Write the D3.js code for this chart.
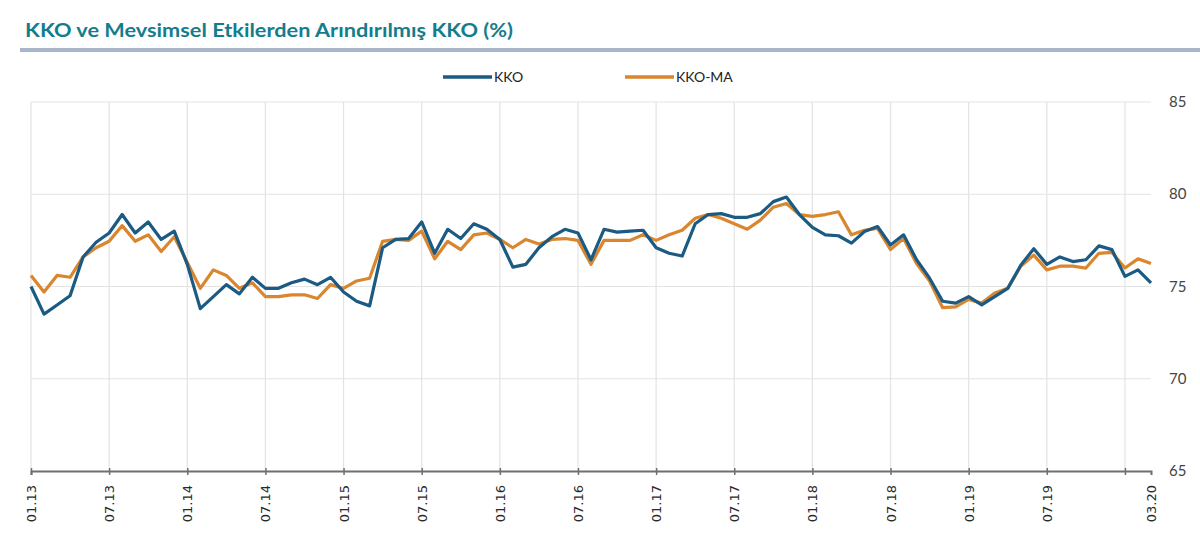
<!DOCTYPE html>
<html>
<head>
<meta charset="utf-8">
<script src="https://cdn.jsdelivr.net/npm/d3@7"></script>
<style>
  html, body { margin: 0; padding: 0; background: #fff; }
  svg { display: block; }
</style>
</head>
<body>
<div id="chart"></div>
<script>
// monthly values, 01.13 .. 03.20
const kko = [
  75.0, 73.5, 74.0, 74.5, 76.6, 77.4, 77.9, 78.9, 77.9, 78.5, 77.55, 78.0,
  76.2, 73.8, 74.45, 75.1, 74.6, 75.5, 74.9, 74.9, 75.2, 75.4, 75.1, 75.5,
  74.7, 74.2, 73.95, 77.1, 77.55, 77.6, 78.5, 76.8, 78.1, 77.6, 78.4, 78.1,
  77.55, 76.05, 76.2, 77.1, 77.7, 78.1, 77.9, 76.45, 78.1, 77.95, 78.0, 78.05,
  77.1, 76.8, 76.65, 78.4, 78.9, 78.95, 78.75, 78.75, 78.95, 79.6, 79.85, 78.9,
  78.2, 77.8, 77.75, 77.35, 77.98, 78.25, 77.25, 77.8, 76.45, 75.45, 74.2, 74.1,
  74.45, 74.0, 74.45, 74.9, 76.15, 77.05, 76.2, 76.6, 76.35, 76.45, 77.2, 77.0,
  75.55, 75.9, 75.2
]
const kkoMa = [
  75.6, 74.7, 75.6, 75.5, 76.6, 77.1, 77.45, 78.3, 77.45, 77.8, 76.9, 77.7,
  76.3, 74.9, 75.9, 75.6, 74.9, 75.2, 74.45, 74.45, 74.55, 74.55, 74.35, 75.1,
  74.9, 75.3, 75.45, 77.45, 77.55, 77.5, 78.0, 76.5, 77.45, 77.0, 77.8, 77.9,
  77.55, 77.1, 77.55, 77.3, 77.55, 77.6, 77.5, 76.2, 77.5, 77.5, 77.5, 77.8,
  77.5, 77.8, 78.05, 78.7, 78.9, 78.7, 78.4, 78.1, 78.6, 79.3, 79.5, 78.9,
  78.8, 78.9, 79.05, 77.8, 78.05, 78.15, 77.0, 77.6, 76.25, 75.3, 73.85, 73.9,
  74.3, 74.1, 74.65, 74.9, 76.1, 76.7, 75.9, 76.1, 76.1, 76.0, 76.8, 76.85,
  76.0, 76.5, 76.25
]
const months = d3.range(kko.length).map(i => {
  const m = (i % 12) + 1
  const y = 13 + Math.floor(i / 12)
  return String(m).padStart(2, '0') + '.' + y
})
const yTicks = [65, 70, 75, 80, 85]
const seriesNames = ['KKO', 'KKO-MA']
const seriesColors = ['#1b5a82', '#d9862e']

const W = 1200
const H = 556
const M = { left: 31, right: 49, top: 102, bottom: 85 }

const svg = d3.select('#chart').append('svg')
  .attr('width', W)
  .attr('height', H)

// title + rule
svg.append('text')
  .attr('x', 25)
  .attr('y', 37)
  .attr('fill', '#147d8d')
  .attr('font-family', 'Lato, sans-serif')
  .attr('font-weight', 700)
  .attr('font-size', 18)
  .attr('textLength', 488)
  .attr('lengthAdjust', 'spacingAndGlyphs')
  .text('KKO ve Mevsimsel Etkilerden Arındırılmış KKO (%)')

svg.append('rect')
  .attr('x', 20)
  .attr('y', 48)
  .attr('width', W - 20)
  .attr('height', 4)
  .attr('fill', '#a9b5c8')

const x = d3.scaleLinear()
  .domain([0, kko.length - 1])
  .range([M.left, W - M.right])

const y = d3.scaleLinear()
  .domain([65, 85])
  .range([H - M.bottom, M.top])

const tickIdx = d3.range(0, kko.length, 6)

// grid
const grid = svg.append('g')
grid.selectAll('line.h')
  .data(yTicks.slice(1))
  .join('line')
  .attr('x1', M.left)
  .attr('x2', W - M.right)
  .attr('y1', d => y(d))
  .attr('y2', d => y(d))
  .attr('stroke', '#e3e3e3')
  .attr('stroke-width', 1.2)
grid.selectAll('line.v')
  .data(tickIdx)
  .join('line')
  .attr('x1', d => x(d))
  .attr('x2', d => x(d))
  .attr('y1', M.top)
  .attr('y2', H - M.bottom)
  .attr('stroke', '#e3e3e3')
  .attr('stroke-width', 1.2)

// x axis
const xAxis = svg.append('g')
  .attr('transform', `translate(0,${H - M.bottom})`)
  .call(d3.axisBottom(x).tickValues(tickIdx).tickSize(4).tickFormat(''))
xAxis.select('.domain').attr('stroke', '#6f6f6f').attr('stroke-width', 2)
xAxis.selectAll('.tick line')
  .attr('y1', -3)
  .attr('stroke', '#6f6f6f')
  .attr('stroke-width', 1.5)

const labelIdx = tickIdx.filter(i => i < 84).concat([kko.length - 1])
svg.append('g')
  .selectAll('text')
  .data(labelIdx)
  .join('text')
  .attr('transform', d => `translate(${x(d) + 5},${H - M.bottom + 14}) rotate(-90)`)
  .attr('text-anchor', 'end')
  .attr('font-family', 'DejaVu Sans, sans-serif')
  .attr('font-size', 13)
  .attr('fill', '#2a2a2a')
  .text(d => months[d])

// y axis labels (right side)
svg.append('g')
  .selectAll('text')
  .data(yTicks)
  .join('text')
  .attr('x', W - M.right + 18)
  .attr('y', d => y(d) + 5)
  .attr('font-family', 'Lato, sans-serif')
  .attr('font-size', 15)
  .attr('fill', '#444')
  .text(d => d)

// lines
const line = d3.line()
  .x((d, i) => x(i))
  .y(d => y(d))

svg.append('path')
  .datum(kkoMa)
  .attr('d', line)
  .attr('fill', 'none')
  .attr('stroke', seriesColors[1])
  .attr('stroke-width', 3.2)
  .attr('stroke-linejoin', 'round')

svg.append('path')
  .datum(kko)
  .attr('d', line)
  .attr('fill', 'none')
  .attr('stroke', seriesColors[0])
  .attr('stroke-width', 3.2)
  .attr('stroke-linejoin', 'round')

// legend
const legendX = [443, 625]
const legend = svg.append('g')
seriesNames.forEach((name, i) => {
  legend.append('line')
    .attr('x1', legendX[i])
    .attr('x2', legendX[i] + 49)
    .attr('y1', 77)
    .attr('y2', 77)
    .attr('stroke', seriesColors[i])
    .attr('stroke-width', 3.5)
  legend.append('text')
    .attr('x', legendX[i] + 51)
    .attr('y', 82)
    .attr('font-family', 'Lato, sans-serif')
    .attr('font-size', 14)
    .attr('fill', '#222')
    .text(name)
})
</script>
</body>
</html>
